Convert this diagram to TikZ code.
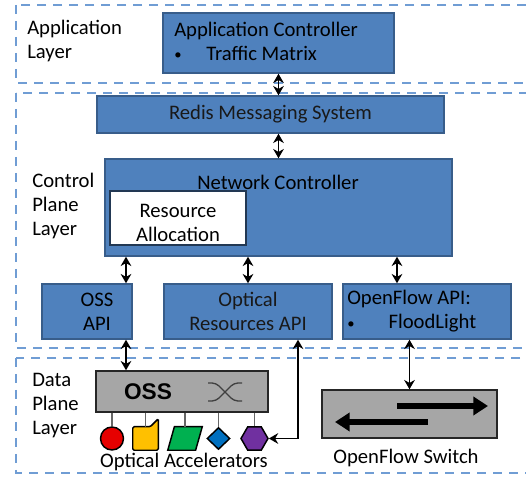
\documentclass[tikz,border=0pt]{standalone}
\usepackage{fontspec}
\setmainfont{Carlito}
\newfontfamily\ossfont{Liberation Sans}
\usetikzlibrary{arrows.meta,shapes.geometric}

\definecolor{blkfill}{RGB}{79,129,189}
\definecolor{blkline}{RGB}{56,93,138}
\definecolor{layerline}{RGB}{112,157,212}
\definecolor{ossgray}{RGB}{166,166,166}
\definecolor{accred}{RGB}{230,0,0}
\definecolor{accyellow}{RGB}{255,192,0}
\definecolor{accgreen}{RGB}{0,176,80}
\definecolor{accblue}{RGB}{0,112,192}
\definecolor{accpurple}{RGB}{112,48,160}

\newcommand{\smbullet}{\makebox[0pt][l]{\raisebox{0.5pt}{\fontsize{11}{11}\selectfont\textbullet}}}

\tikzset{
  blk/.style={draw=blkline, fill=blkfill, line width=1.1pt, inner sep=0pt, text=black!90, align=center},
  graybox/.style={draw=black!85, fill=ossgray, line width=1.1pt, inner sep=0pt},
  layerbox/.style={draw=layerline, line width=1.4pt, dash pattern=on 7pt off 5pt},
  link/.style={{Stealth[length=7pt,width=8pt]}-{Stealth[length=7pt,width=8pt]}, line width=1.4pt},
  accel/.style={draw=black, line width=1.1pt, inner sep=0pt},
  stub/.style={draw=black!60, line width=1.1pt},
  txt/.style={inner sep=0pt, align=left},
  fatarrow/.style={line width=5pt, -{Triangle[length=11pt,width=13.5pt]}},
}

\begin{document}
\begin{tikzpicture}[x=0.75pt,y=0.75pt,yscale=-1,xscale=1, font=\fontsize{15.5}{18}\selectfont]
\useasboundingbox (0,0) rectangle (526,477);

%Layers
\draw[layerbox] (16,5) rectangle (545,83);
\draw[layerbox] (16,93) rectangle (545,348);
\draw[layerbox] (16,358) rectangle (545,473);

% Text Node
\node[txt, anchor=west] (applbl) at (27,41) {Application\\Layer};
\node[txt, anchor=west] (ctrllbl) at (32,206) {Control\\Plane\\Layer};
\node[txt, anchor=west] (datalbl) at (32,406) {Data\\Plane\\Layer};

%Application layer
\node[blk, minimum width=173.25pt, minimum height=45pt] (appctl) at (278.5,43) {};
\node[txt, anchor=west] (appctltxt) at (174,41) {Application Controller\\\makebox[24pt][l]{\smbullet}Traffic Matrix};

%Control plane layer
\node[blk, minimum width=260.25pt, minimum height=27.75pt] (redis) at (270.5,114.5) {Redis Messaging System};
\node[blk, minimum width=260.25pt, minimum height=72.75pt] (netctl) at (278.5,207.5) {};
\node[txt] (netctltxt) at (278,182) {Network Controller};
\node[draw=blkline!60!black, fill=white, line width=1.1pt, minimum width=102pt, minimum height=40.5pt] (resalloc) at (178,218) {};
\node[txt, align=center] (resalloctxt) at (178,223) {Resource\\Allocation};

\node[blk, minimum width=67.5pt, minimum height=41.25pt] (ossapi) at (87,311.5) {};
\node[txt, align=center] (ossapitxt) at (97,311.5) {OSS\\API};
\node[blk, minimum width=126pt, minimum height=41.25pt] (optapi) at (248,311.5) {Optical\\Resources API};
\node[blk, minimum width=126pt, minimum height=41.25pt] (ofapi) at (427,311.5) {};
\node[txt, anchor=west] (ofapitxt) at (347,311.5) {OpenFlow API:\\\makebox[31pt][l]{\smbullet}FloodLight};

%Data plane layer
\node[graybox, minimum width=129pt, minimum height=30.75pt] (oss) at (182,391.5) {};
\node[font=\ossfont\bfseries\fontsize{17}{20}\selectfont, inner sep=0pt] (osstxt) at (148,392) {OSS};
\draw[black!75, line width=1pt, rounded corners=3pt] (208,383) -- (216,383) -- (234,401) -- (242,401);
\draw[black!75, line width=1pt, rounded corners=3pt] (208,401) -- (216,401) -- (234,383) -- (242,383);

\node[accel, circle, fill=accred, minimum size=17.25pt] (redacc) at (112,438.5) {};
\node[inner sep=0pt, minimum width=18.75pt, minimum height=17.25pt] (yelacc) at (145.5,438.5) {};
\draw[accel, fill=accyellow, rounded corners=1pt] (yelacc.north west) -- ([xshift=-6pt]yelacc.north east) -- ([yshift=-6pt]yelacc.north east) -- (yelacc.south east) -- (yelacc.south west) -- cycle;
\node[inner sep=0pt, minimum width=25.5pt, minimum height=17.25pt] (grnacc) at (185,438.5) {};
\draw[accel, fill=accgreen] ([xshift=5pt]grnacc.north west) -- (grnacc.north east) -- ([xshift=-5pt]grnacc.south east) -- (grnacc.south west) -- cycle;
\node[accel, diamond, fill=accblue, minimum width=17.25pt, minimum height=16.5pt] (bluacc) at (218.5,438.5) {};
\node[accel, regular polygon, regular polygon sides=6, fill=accpurple, minimum size=20.25pt] (puracc) at (254.5,438.5) {};
\node (acclbl) at (184,462) {Optical Accelerators};

\foreach \acc in {redacc,yelacc,grnacc,bluacc,puracc}
  \draw[stub] (oss.south -| \acc.north) -- (\acc.north);

\node[graybox, minimum width=131.25pt, minimum height=36pt] (switch) at (409.5,414) {};
\coordinate (fwdfrom) at (397,406);
\coordinate (fwdto) at (488,406);
\coordinate (backfrom) at (428,422);
\coordinate (backto) at (335,422);
\draw[fatarrow] (fwdfrom) -- (fwdto);
\draw[fatarrow] (backfrom) -- (backto);
\node (switchlbl) at (406,458) {OpenFlow Switch};

%Connectors
\coordinate (ossx) at (126,0);
\coordinate (optx) at (298,0);
\coordinate (ofx) at (397,0);
\draw[link] (appctl.south) -- (appctl.south |- redis.north);
\draw[link] (netctl.north |- redis.south) -- (netctl.north);
\draw[link] (netctl.south -| ossx) -- (ossapi.north -| ossx);
\draw[link] (netctl.south -| optapi.north) -- (optapi.north);
\draw[link] (netctl.south -| ofx) -- (ofapi.north -| ofx);
\draw[link] (ossapi.south -| ossx) -- (oss.north -| ossx);
\draw[link] (optapi.south -| optx) |- (puracc.east);
\draw[link] (ofapi.south -| switch.north) -- (switch.north);

\end{tikzpicture}
\end{document}
